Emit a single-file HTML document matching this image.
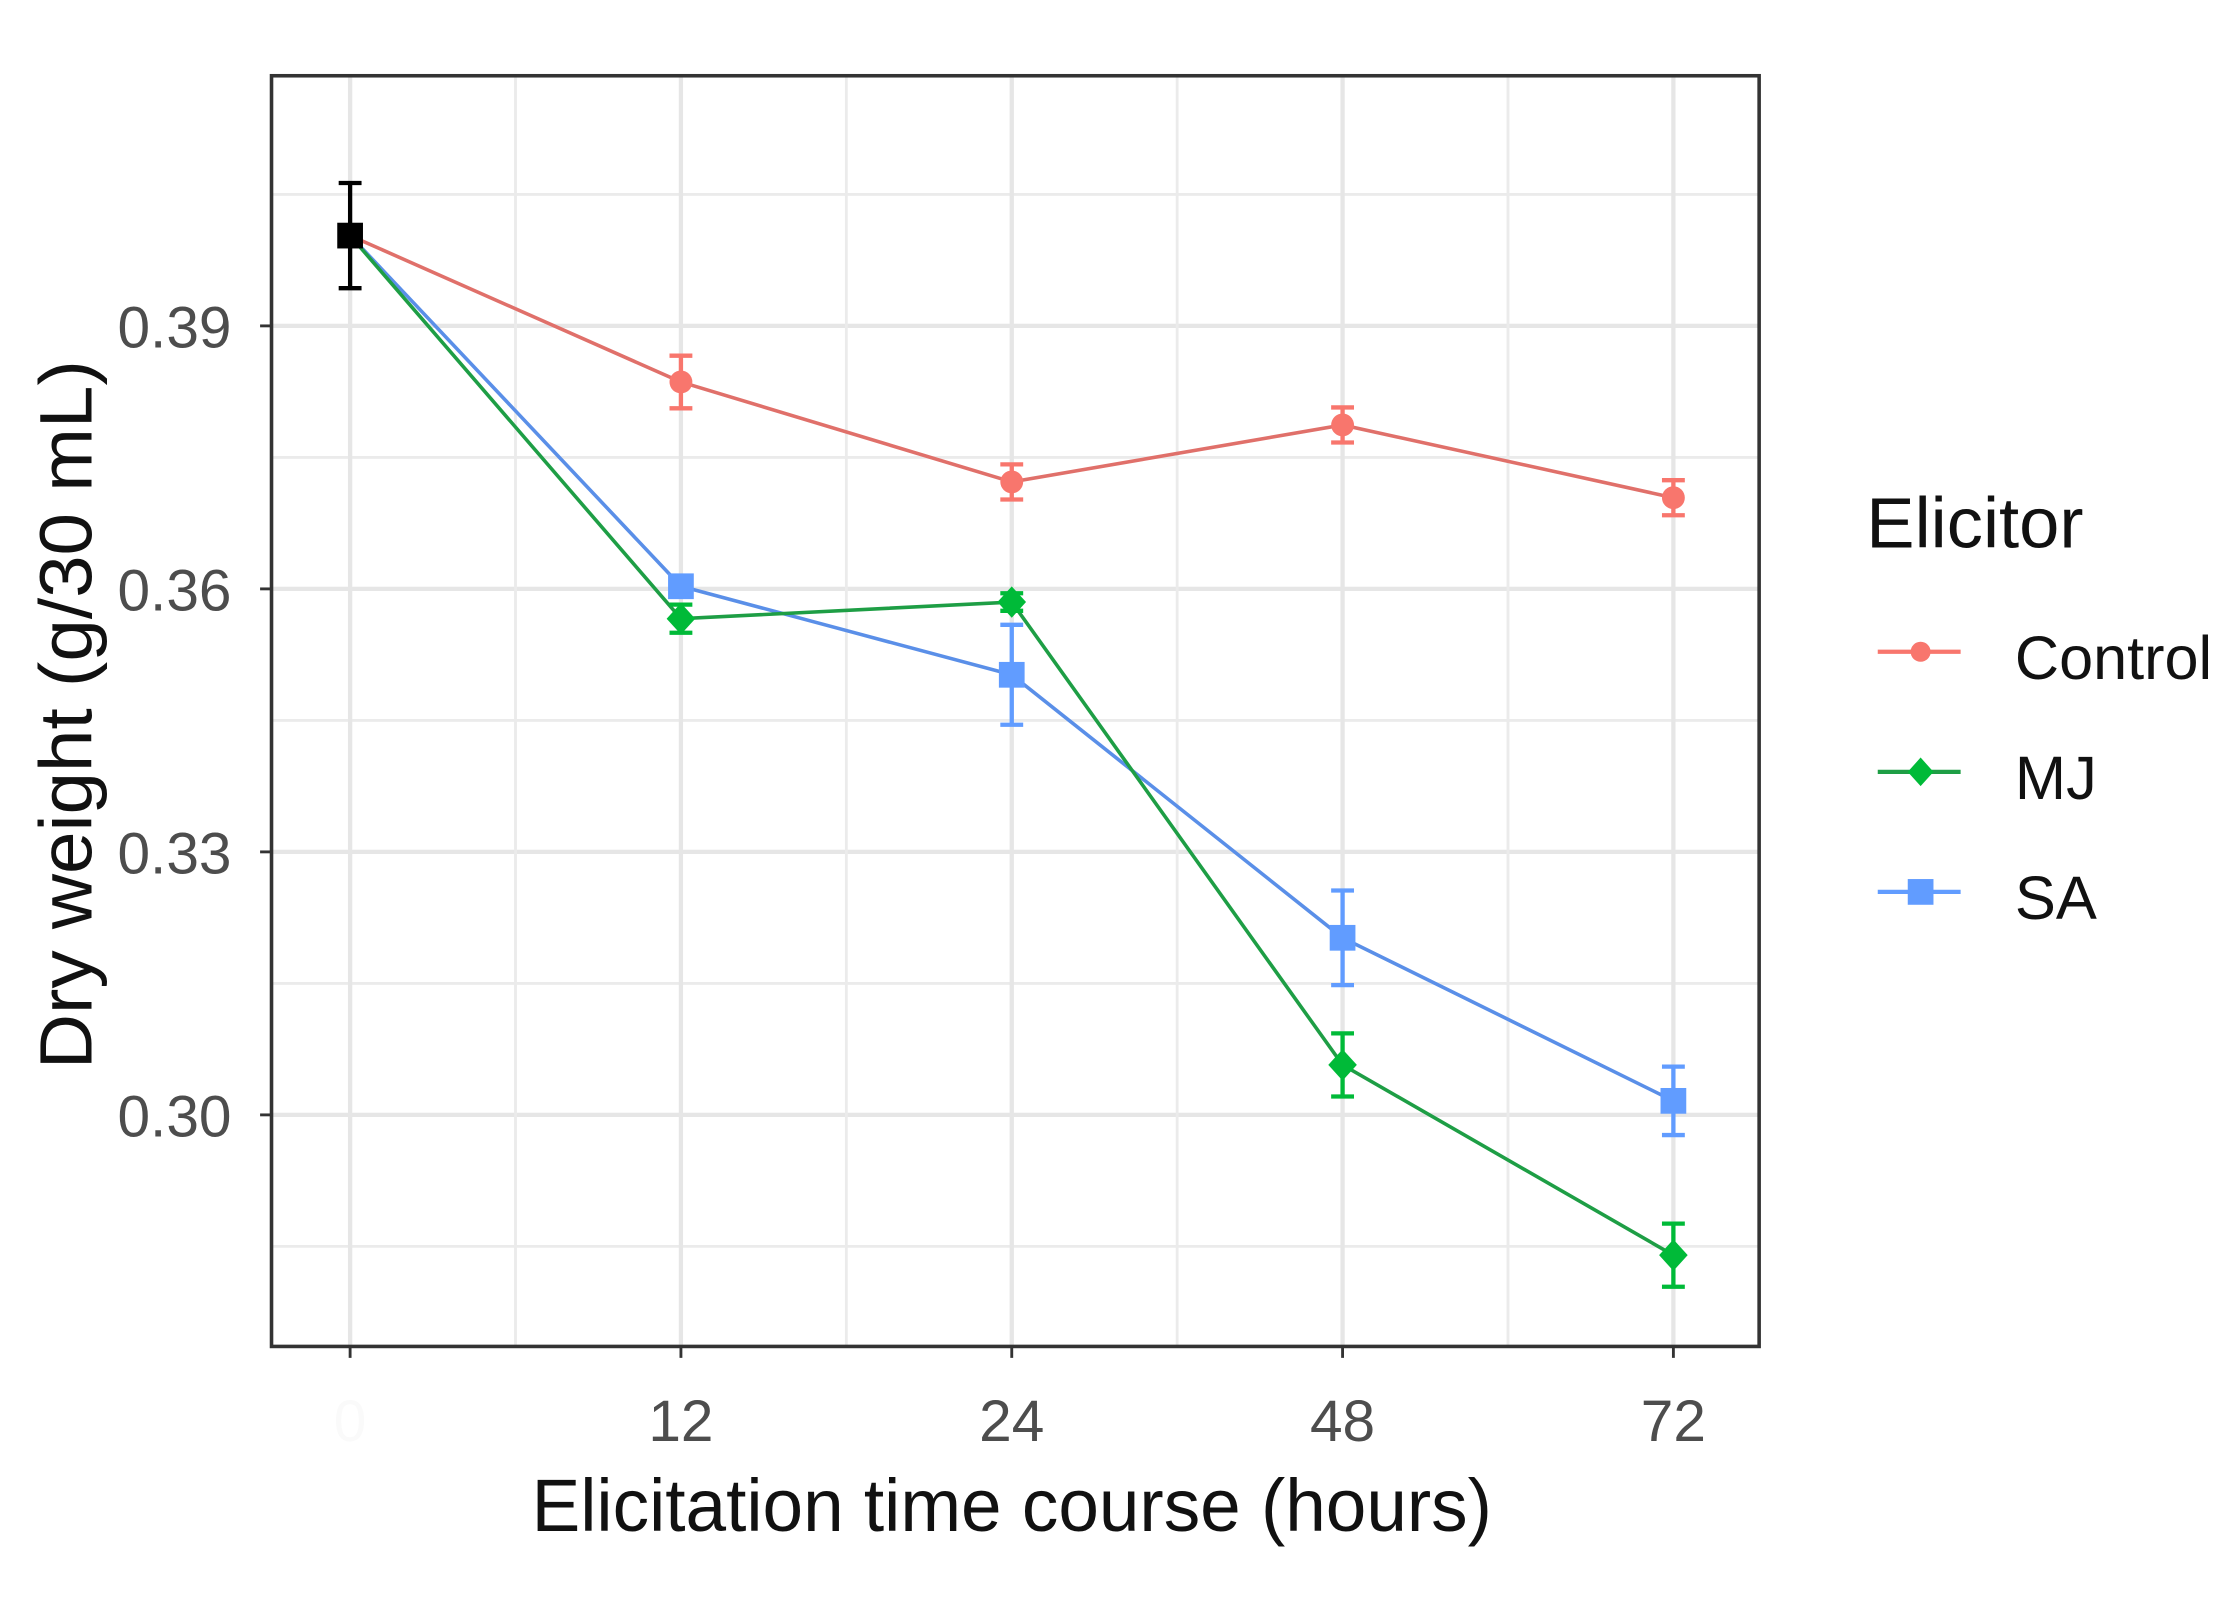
<!DOCTYPE html>
<html><head><meta charset="utf-8"><style>
html,body{margin:0;padding:0;background:#fff;}
svg{display:block;font-family:"Liberation Sans",Arial,sans-serif;}
</style></head><body>
<svg id="chart" width="2235" height="1598" viewBox="0 0 1564 1118" preserveAspectRatio="none">
<rect width="1564" height="1118" fill="#fff"/>
<g id="grid"></g>
<g id="series"></g>
<rect x="190" y="53" width="1041" height="889" fill="none" stroke="#333" stroke-width="2.5"/>
<g id="axes"></g>
<text x="708" y="1071" font-size="52" fill="#111" text-anchor="middle" textLength="672" lengthAdjust="spacingAndGlyphs">Elicitation time course (hours)</text>
<text transform="translate(64,500) rotate(-90)" font-size="52" fill="#111" text-anchor="middle" textLength="496" lengthAdjust="spacingAndGlyphs">Dry weight (g/30 mL)</text>
<g>
<text x="1306" y="383" font-size="50" fill="#111" textLength="152" lengthAdjust="spacingAndGlyphs">Elicitor</text>
<g>
<line x1="1314" y1="456" x2="1372" y2="456" stroke="#F8766D" stroke-width="3"/><circle cx="1344" cy="456" r="7" fill="#F8766D"/>
<text x="1410" y="475" font-size="43" fill="#111" textLength="138" lengthAdjust="spacingAndGlyphs">Control</text></g>
<g>
<line x1="1314" y1="540" x2="1372" y2="540" stroke="#1E9E45" stroke-width="3"/><polygon points="1344,530 1353,540 1344,550 1335,540" fill="#00BA38"/>
<text x="1410" y="559" font-size="43" fill="#111">MJ</text></g>
<g>
<line x1="1314" y1="624" x2="1372" y2="624" stroke="#619CFF" stroke-width="3"/><rect x="1335" y="615" width="18" height="18" fill="#619CFF"/>
<text x="1410" y="643" font-size="43" fill="#111">SA</text></g>
</g>
</svg>
<script>
const categories = ["0","12","24","48","72"];
const startValue = 0.4003;
const startErr = 0.006;
const controlValues = [0.3836, 0.3722, 0.3787, 0.3704];
const controlErr = [0.003, 0.002, 0.002, 0.002];
const mjValues = [0.3566, 0.3585, 0.3057, 0.2840];
const mjErr = [0.0016, 0.001, 0.0036, 0.0036];
const saValues = [0.3603, 0.3502, 0.3202, 0.3016];
const saErr = [0.001, 0.0057, 0.0054, 0.0039];
const yTicks = [0.30, 0.33, 0.36, 0.39];
const yTickLabels = ["0.30","0.33","0.36","0.39"];

const NS = "http://www.w3.org/2000/svg";
const X0 = 245, DX = 231.5;
function xs(i){ return X0 + i*DX; }
function ys(v){ return 228 + (0.39 - v) * (184/0.03); }
function mk(tag, attrs, parent){ const e=document.createElementNS(NS,tag); for(const k in attrs) e.setAttribute(k,attrs[k]); parent.appendChild(e); return e; }

const grid = document.getElementById('grid');
const axes = document.getElementById('axes');
const series = document.getElementById('series');
for (let t = 0; t < yTicks.length + 1; t++) {
  const v = 0.285 + t*0.03;
  const g = mk('line',{x1:190,x2:1231,y1:ys(v),y2:ys(v),stroke:'#ebebeb','stroke-width':2},grid);
  
  
}
yTicks.forEach((v,i)=>{
  const g = mk('line',{x1:190,x2:1231,y1:ys(v),y2:ys(v),stroke:'#e6e6e6','stroke-width':3},grid);
  
  
  mk('line',{x1:182,x2:190,y1:ys(v),y2:ys(v),stroke:'#333','stroke-width':2},axes);
  const t = mk('text',{x:162,y:ys(v)+15,'font-size':41,fill:'#4d4d4d','text-anchor':'end'},axes);
  t.textContent = yTickLabels[i];
  
  
});
categories.forEach((c,i)=>{
  const x = xs(i);
  const g = mk('line',{x1:x,x2:x,y1:53,y2:942,stroke:'#e6e6e6','stroke-width':3},grid);
  
  
  if (i < categories.length-1) {
    const m = mk('line',{x1:x+DX/2,x2:x+DX/2,y1:53,y2:942,stroke:'#ebebeb','stroke-width':2},grid);
    
    
  }
  mk('line',{x1:x,x2:x,y1:942,y2:950,stroke:'#333','stroke-width':2},axes);
  const t = mk('text',{x:x,y:1008,'font-size':41,fill:i===0?'#fafafa':'#4d4d4d','text-anchor':'middle'},axes);
  t.textContent = c;
  
  
});

function drawSeries(name, vals, errs, color, lineColor, shape){
  const pts = [[xs(0), ys(startValue)]].concat(vals.map((v,i)=>[xs(i+1), ys(v)]));
  const pl = mk('polyline',{points:pts.map(p=>p.join(',')).join(' '),fill:'none',stroke:lineColor,'stroke-width':2.5},series);
  
  
  vals.forEach((v,i)=>{
    const x = xs(i+1), y = ys(v), e1 = ys(v+errs[i]), e2 = ys(v-errs[i]);
    const eb = mk('path',{d:`M${x-8},${e1}H${x+8}M${x},${e1}V${e2}M${x-8},${e2}H${x+8}`,stroke:color,'stroke-width':3,fill:'none'},series);
    
    
    let m;
    if (shape==='circle') m = mk('circle',{cx:x,cy:y,r:8,fill:color},series);
    else if (shape==='diamond') m = mk('polygon',{points:`${x},${y-11} ${x+10},${y} ${x},${y+11} ${x-10},${y}`,fill:color},series);
    else m = mk('rect',{x:x-9,y:y-9,width:18,height:18,fill:color},series);
    
    
  });
}
drawSeries('control', controlValues, controlErr, '#F8766D', '#E0706A', 'circle');
drawSeries('sa', saValues, saErr, '#619CFF', '#5A8FE8', 'square');
drawSeries('mj', mjValues, mjErr, '#00BA38', '#1E9E45', 'diamond');

const sx = xs(0), sy = ys(startValue), s1 = ys(startValue+startErr), s2 = ys(startValue-startErr);
const seb = mk('path',{d:`M${sx-8},${s1}H${sx+8}M${sx},${s1}V${s2}M${sx-8},${s2}H${sx+8}`,stroke:'#000','stroke-width':3,fill:'none'},series);


const sp = mk('rect',{x:sx-9,y:sy-9,width:18,height:18,fill:'#000'},series);


</script>
</body></html>
